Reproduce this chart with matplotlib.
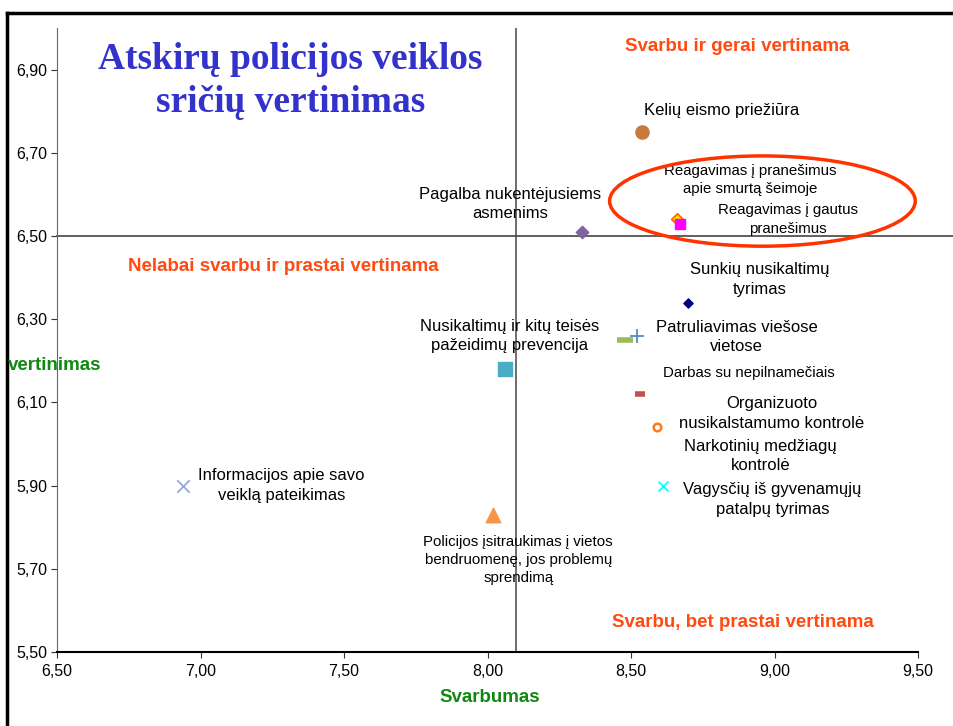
import matplotlib
matplotlib.use("Agg")
import matplotlib.pyplot as plt
from matplotlib.patches import Ellipse
from matplotlib.lines import Line2D

plt.rcParams['font.family'] = ['Liberation Sans', 'DejaVu Sans']

# duomenys: svarbumas (x) ir vertinimas (y)
sritys = [
    "Kelių eismo priežiūra",
    "Reagavimas į pranešimus\napie smurtą šeimoje",
    "Reagavimas į gautus\npranešimus",
    "Pagalba nukentėjusiems\nasmenims",
    "Sunkių nusikaltimų\ntyrimas",
    "Nusikaltimų ir kitų teisės\npažeidimų prevencija",
    "Patruliavimas viešose\nvietose",
    "Narkotinių medžiagų\nkontrolė",
    "Darbas su nepilnamečiais",
    "Organizuoto\nnusikalstamumo kontrolė",
    "Vagysčių iš gyvenamųjų\npatalpų tyrimas",
    "Informacijos apie savo\nveiklą pateikimas",
    "Policijos įsitraukimas į vietos\nbendruomenę, jos problemų\nsprendimą",
]
svarbumas = [8.54, 8.66, 8.67, 8.33, 8.70, 8.06, 8.52, 8.48, 8.53, 8.59, 8.61, 6.94, 8.02]
vertinimas = [6.75, 6.54, 6.53, 6.51, 6.34, 6.18, 6.26, 6.25, 6.12, 6.04, 5.90, 5.90, 5.83]

x_ticks = [6.5, 7.0, 7.5, 8.0, 8.5, 9.0, 9.5]
y_ticks = [5.5, 5.7, 5.9, 6.1, 6.3, 6.5, 6.7, 6.9]
x_vid, y_vid = 8.10, 6.50

# markerių stiliai
stiliai = [
    dict(marker='o', color='#C87A3C', s=90, edgecolors='#C87A3C'),
    dict(marker='D', color='#FFE000', s=35, edgecolors='#FF6600', linewidths=1.2),
    dict(marker='s', color='#FF00FF', s=45, edgecolors='#FF00FF'),
    dict(marker='D', color='#8064A2', s=40, edgecolors='#8064A2'),
    dict(marker='D', color='#000080', s=22, edgecolors='#000080'),
    dict(marker='s', color='#4BACC6', s=100, edgecolors='#4BACC6'),
    dict(marker='+', color='#4F81BD', s=110, linewidths=1.2),
    dict(marker='_', color='#9BBB59', s=130, linewidths=4),
    dict(marker='_', color='#C0504D', s=60, linewidths=4),
    dict(marker='o', color='white', s=30, edgecolors='#F57C20', linewidths=1.8),
    dict(marker='x', color='#00FFFF', s=50, linewidths=1.2),
    dict(marker='x', color='#95A9D6', s=80, linewidths=1.3),
    dict(marker='^', color='#F79646', s=110, edgecolors='#F79646'),
]

# užrašų poslinkiai pikseliais
poslinkiai = [(79, 21), (73, 39), (108, 4), (-72, 28), (71, 23), (5, 33), (100, -1),
              (135, -116), (109, 21), (115, 14), (110, -14), (98, 0), (25, -45)]
maži = (1, 2, 8, 12)

fig = plt.figure(figsize=(9.54, 7.26), dpi=100)
ax = fig.add_axes([57 / 954, 1 - 652 / 726, (918 - 57) / 954, (652 - 28) / 726])

for x, y, st in zip(svarbumas, vertinimas, stiliai):
    ax.scatter([x], [y], zorder=4, **st)

for i, (lab, x, y) in enumerate(zip(sritys, svarbumas, vertinimas)):
    fs = 10.8 if i in maži else 12
    ax.annotate(lab, (x, y), xytext=poslinkiai[i], textcoords='offset pixels',
                ha='center', va='center', fontsize=fs, linespacing=1.37, zorder=5)

ax.set_xlim(6.5, 9.5)
ax.set_ylim(5.5, 7.0)
ax.set_xticks(x_ticks)
ax.set_xticklabels([f"{v:.2f}".replace('.', ',') for v in x_ticks])
ax.set_yticks(y_ticks)
ax.set_yticklabels([f"{v:.2f}".replace('.', ',') for v in y_ticks])
ax.tick_params(axis='both', labelsize=11.5, length=4, direction='out', color='#333333')
ax.tick_params(axis='x', pad=5)
ax.tick_params(axis='y', pad=3)

for side in ['top', 'right']:
    ax.spines[side].set_visible(False)
ax.spines['left'].set_color('#666666')
ax.spines['left'].set_linewidth(0.8)
ax.spines['bottom'].set_color('black')
ax.spines['bottom'].set_linewidth(1.5)

# kvadrantų linijos
ax.axvline(x_vid, color='#555555', lw=1.2, zorder=2)
ax.plot([6.5, 6.5 + (954 - 57) / 287.0], [y_vid, y_vid], color='#444444', lw=1.2,
        clip_on=False, zorder=2)

# ovalas
ax.add_patch(Ellipse((8.958, 6.584), 1.065, 0.217, fill=False, edgecolor='#FF3300',
                     lw=2.5, zorder=6, clip_on=False))

oranz = '#FF4A12'
ax.text(0.790, 0.970, "Svarbu ir gerai vertinama", transform=ax.transAxes, color=oranz,
        fontsize=13.5, fontweight='bold', ha='center', va='center')
ax.text(0.2625, 0.617, "Nelabai svarbu ir prastai vertinama", transform=ax.transAxes,
        color=oranz, fontsize=13.5, fontweight='bold', ha='center', va='center')
ax.text(0.797, 0.048, "Svarbu, bet prastai vertinama", transform=ax.transAxes, color=oranz,
        fontsize=13.5, fontweight='bold', ha='center', va='center')

ax.text(0.271, 0.915, "Atskirų policijos veiklos\nsričių vertinimas", transform=ax.transAxes,
        color='#3333CC', fontsize=27, fontweight='bold', family='Liberation Serif',
        ha='center', va='center', linespacing=1.33)

fig.text(490 / 954, 1 - 697 / 726, "Svarbumas", color='#118811', fontsize=13.5,
         fontweight='bold', ha='center', va='center')
fig.text(8 / 954, 1 - 365 / 726, "vertinimas", color='#118811', fontsize=13.5,
         fontweight='bold', ha='left', va='center')

# rėmelis
fig.add_artist(Line2D([7 / 954, 1], [1 - 13 / 726] * 2, color='black', lw=2.5,
                      transform=fig.transFigure))
fig.add_artist(Line2D([7 / 954] * 2, [0, 1 - 13 / 726], color='black', lw=2.5,
                      transform=fig.transFigure))

fig.savefig("out.png", dpi=100)
